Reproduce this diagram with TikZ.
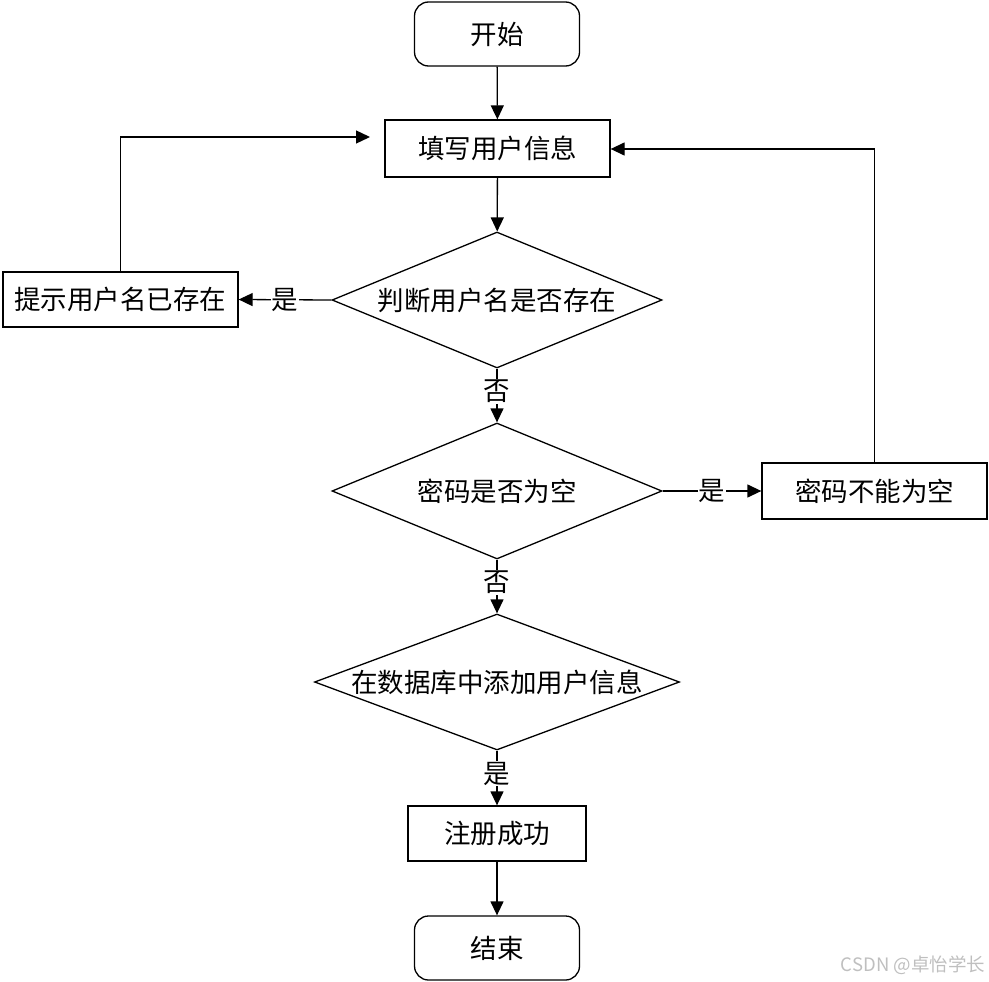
\documentclass[tikz,border=0pt]{standalone}
\usepackage{fontspec}
\setmainfont{Noto Sans CJK SC}
\usetikzlibrary{shapes.geometric,arrows.meta}
\begin{document}
\begin{tikzpicture}[x=1pt,y=-1pt,
  every node/.style={font=\fontsize{26.5}{30}\selectfont},
  base/.style={draw,line width=1.3pt,inner sep=0pt},
  term/.style={base,rounded corners=14pt,minimum width=165pt,minimum height=64pt},
  proc/.style={base,rectangle},
  dec/.style={base,diamond,aspect=2.43,minimum width=330pt,minimum height=136pt},
  conn/.style={line width=1.3pt,-{Triangle[length=14pt,width=13pt]}},
  lab/.style={fill=white,inner sep=1pt}]
\useasboundingbox (0,0) rectangle (989,982);
\node[term] (start) at (497,34) {开始};
\node[proc,minimum width=225pt,minimum height=57pt] (fill) at (497.5,148.5) {填写用户信息};
\node[dec] (d1) at (497,300) {判断用户名是否存在};
\node[proc,minimum width=235pt,minimum height=55pt] (exist) at (120.5,299.5) {提示用户名已存在};
\node[dec] (d2) at (497,491) {密码是否为空};
\node[proc,minimum width=225pt,minimum height=56pt] (empty) at (874.5,491) {密码不能为空};
\node[dec,aspect=2.68,minimum width=365pt] (d3) at (497,682) {在数据库中添加用户信息};
\node[proc,minimum width=178pt,minimum height=55pt] (ok) at (497,833.5) {注册成功};
\node[term] (end) at (497,948) {结束};
\coordinate (lefttip) at (370,137);
\node[font=\fontsize{18.5}{20}\selectfont,text=black!25] (wm) at (913,965) {CSDN @卓怡学长};

\draw[conn] (start) -- (fill);
\draw[conn] (fill) -- (d1);
\draw[conn] (d1.west) -- node[lab,midway] {是} (exist.east);
\draw[conn] (exist.north) |- (lefttip);
\draw[conn] (d1.south) -- node[lab,pos=0.42] {否} (d2.north);
\draw[conn] (d2.east) -- node[lab] {是} (empty.west);
\draw[conn] (empty.north) |- (fill.east |- 0,149);
\draw[conn] (d2.south) -- node[lab,pos=0.42] {否} (d3.north);
\draw[conn] (d3.south) -- node[lab,pos=0.42] {是} (ok.north);
\draw[conn] (ok) -- (end);
\end{tikzpicture}
\end{document}
